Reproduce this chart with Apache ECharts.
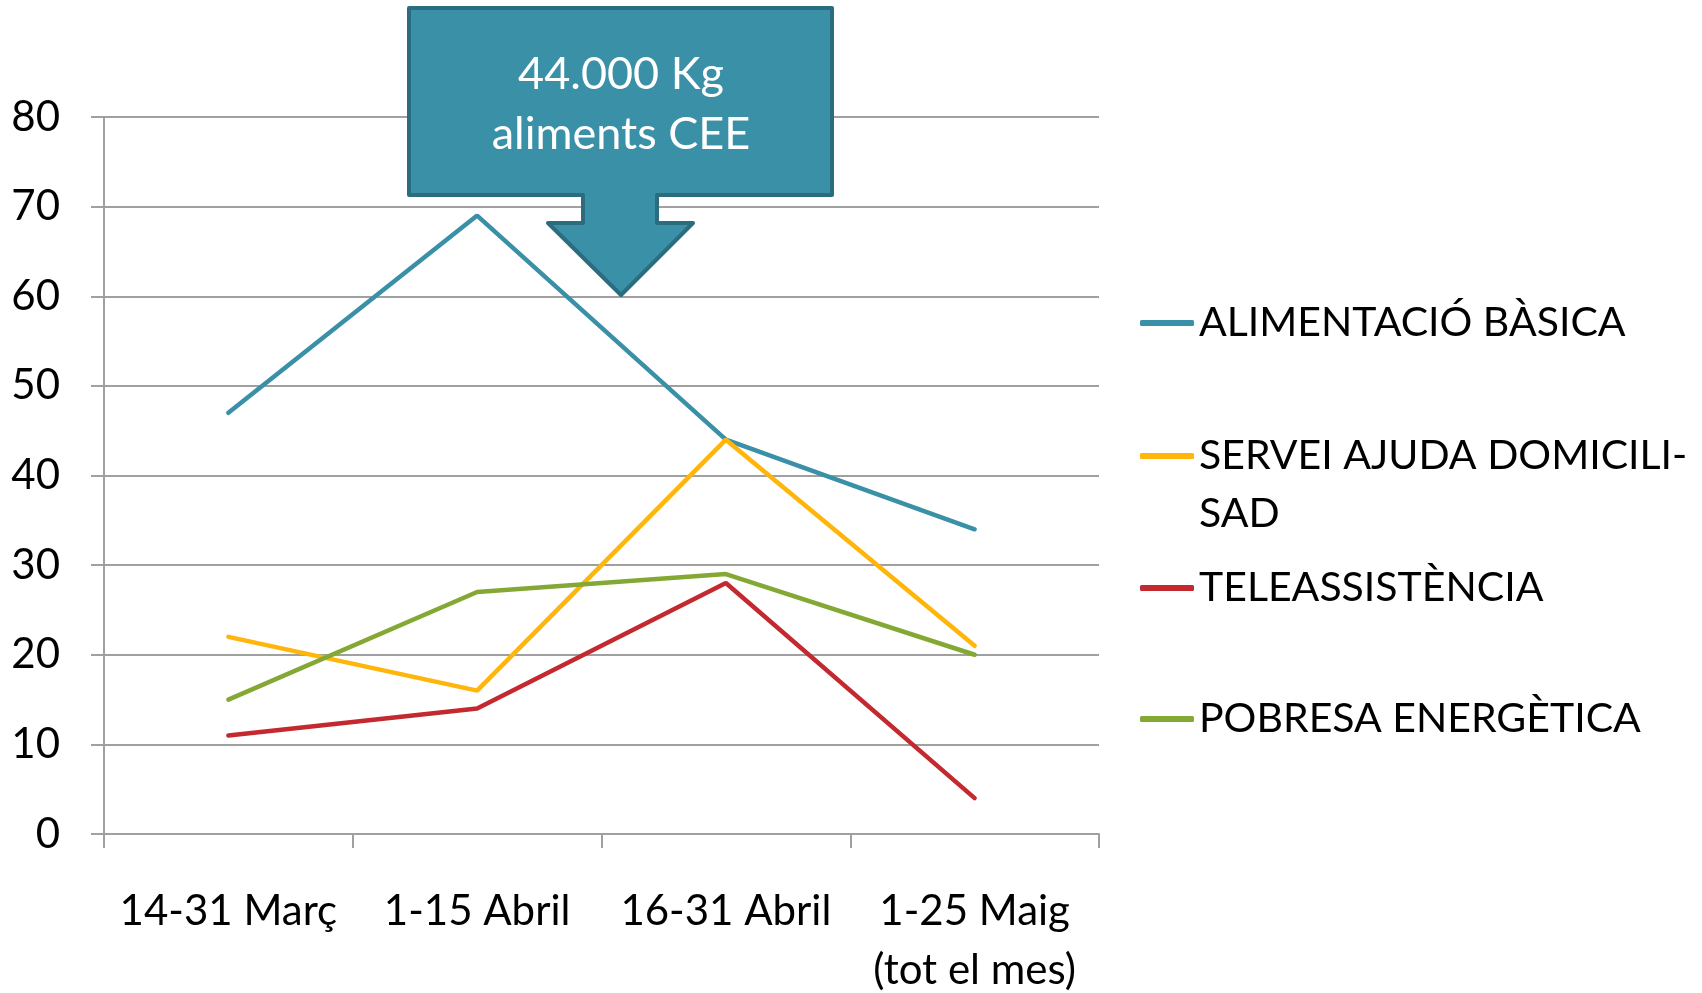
<!DOCTYPE html>
<html>
<head>
<meta charset="utf-8">
<title>Serveis</title>
<script src="https://cdn.jsdelivr.net/npm/echarts@6/dist/echarts.min.js"></script>
<style>
    html, body { margin: 0; padding: 0; background: #fff; }
    #chart_main { width: 1702px; height: 993px; }
</style>
</head>
<body>
<div id="chart_main"></div>
<script>
// dades llegides del grafic
var periodes = ['14-31 Març', '1-15 Abril', '16-31 Abril', '1-25 Maig\n(tot el mes)'];
var alimentacio = [47, 69, 44, 34];
var sad = [22, 16, 44, 21];
var teleassistencia = [11, 14, 28, 4];
var pobresa = [15, 27, 29, 20];
var noms = ['ALIMENTACIÓ BÀSICA', 'SERVEI AJUDA DOMICILI-SAD', 'TELEASSISTÈNCIA', 'POBRESA ENERGÈTICA'];
var colors = ['#3A90A7', '#FFB50A', '#C3292E', '#84A834'];
var callout_text = '44.000 Kg\naliments CEE';

var FONT = 'Lato, "Open Sans", sans-serif';
var FS = 42;

function echart_main() {
    var myChart = echarts.init(document.getElementById('chart_main'));

    // una llegenda per element, per poder-les col·locar com a l'original
    var legendTops = [294, 369, 559, 690];
    var legends = noms.map(function (nom, i) {
        return {
            show: true,
            left: 1140,
            top: legendTops[i],
            padding: 0,
            icon: 'roundRect',
            itemWidth: 54,
            itemHeight: 6,
            selectedMode: false,
            data: [nom],
            formatter: function (name) {
                // el text llarg es parteix en dues linies
                if (name === noms[1]) return '\nSERVEI AJUDA DOMICILI-\nSAD';
                return name;
            },
            textStyle: {
                fontFamily: FONT,
                fontSize: 41,
                lineHeight: 58,
                color: '#000'
            }
        };
    });

    var series_data = [alimentacio, sad, teleassistencia, pobresa];
    var series = series_data.map(function (d, i) {
        return {
            name: noms[i],
            type: 'line',
            data: d,
            symbol: 'none',
            color: colors[i],
            lineStyle: { width: 4.5, color: colors[i], cap: 'round' },
            animation: false
        };
    });

    var option = {
        animation: false,
        textStyle: { fontFamily: FONT },
        grid: { left: 104, right: 603, top: 117, bottom: 159, containLabel: false, outerBoundsMode: 'none' },
        legend: legends,
        xAxis: {
            type: 'category',
            data: periodes,
            boundaryGap: true,
            axisLine: { lineStyle: { color: '#A0A0A0', width: 2 } },
            axisTick: { show: true, length: 14, alignWithLabel: false, lineStyle: { color: '#A0A0A0', width: 2 } },
            axisLabel: {
                interval: 0,
                margin: 48,
                fontFamily: FONT,
                fontSize: FS,
                lineHeight: 59,
                color: '#000'
            }
        },
        yAxis: {
            type: 'value',
            min: 0,
            max: 80,
            interval: 10,
            axisLine: { show: true, lineStyle: { color: '#A0A0A0', width: 2 } },
            axisTick: { show: true, length: 13, lineStyle: { color: '#A0A0A0', width: 2 } },
            splitLine: { show: true, lineStyle: { color: '#A0A0A0', width: 2 } },
            axisLabel: {
                margin: 44,
                fontFamily: FONT,
                fontSize: FS,
                color: '#000'
            }
        },
        // fletxa de la nota
        graphic: [{
            type: 'polygon',
            z: 100,
            shape: {
                points: [[409, 8], [832, 8], [832, 195], [657, 195], [657, 223], [693, 223],
                         [621, 295], [548, 223], [583, 223], [583, 195], [409, 195]]
            },
            style: { fill: '#3A90A6', stroke: '#2B6C7F', lineWidth: 4, lineJoin: 'round' }
        }, {
            type: 'text',
            z: 101,
            style: {
                text: callout_text,
                x: 621,
                y: 104,
                fill: '#fff',
                font: '45px ' + FONT,
                lineHeight: 60,
                align: 'center',
                verticalAlign: 'middle'
            }
        }],
        series: series
    };

    myChart.setOption(option);
    window.addEventListener('resize', function () {
        myChart.resize();
    });
}

echart_main();
</script>
</body>
</html>
